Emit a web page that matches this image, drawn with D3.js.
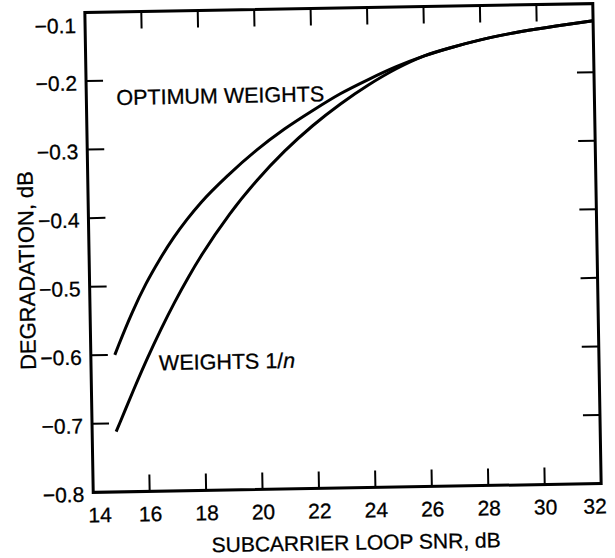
<!DOCTYPE html>
<html>
<head>
<meta charset="utf-8">
<script src="https://cdn.jsdelivr.net/npm/d3@7"></script>
<style>
  body { margin: 0; background: #fff; }
  text { font-family: "Liberation Sans", Arial, Helvetica, sans-serif; fill: #000; stroke: #000; stroke-width: 0.3px; }
</style>
</head>
<body>
<svg width="615" height="558"></svg>
<script>
// data
var snr = [14.85, 15, 15.5, 16, 16.5, 17, 17.5, 18, 19, 20, 21, 22, 23, 24, 25, 26, 27, 28, 29, 30, 31, 32];
var optimumWeights = [-0.600, -0.585, -0.538, -0.497, -0.462, -0.431, -0.404, -0.380, -0.340, -0.305, -0.275, -0.249, -0.225, -0.205, -0.187, -0.172, -0.160, -0.150, -0.142, -0.1355, -0.130, -0.125];
var weightsInvN = [-0.712, -0.698, -0.651, -0.606, -0.564, -0.525, -0.489, -0.456, -0.398, -0.349, -0.307, -0.271, -0.240, -0.213, -0.190, -0.172, -0.160, -0.150, -0.142, -0.1355, -0.130, -0.125];

var xTicks = [14, 16, 18, 20, 22, 24, 26, 28, 30, 32];
var yTicks = [-0.1, -0.2, -0.3, -0.4, -0.5, -0.6, -0.7, -0.8];

var svg = d3.select("svg");

// note: "top" is taken by window.top, so prefix these
var pLeft = 89, pRight = 597, pTop = 8, pBottom = 488;
var tickLen = 17;

// scanned page is a little tilted
var g = svg.append("g")
    .attr("transform", "rotate(-1," + ((pLeft + pRight) / 2) + "," + ((pTop + pBottom) / 2) + ")");

var x = d3.scaleLinear().domain([14, 32]).range([pLeft, pRight]);
var y = d3.scaleLinear().domain([-0.8, -0.1]).range([pBottom, pTop]);

var fmt = d3.format(".1f");

// axes only for the labels, tick marks drawn below
var xAxis = g.append("g")
    .attr("transform", "translate(0," + pBottom + ")")
    .call(d3.axisBottom(x).tickValues(xTicks).tickSize(0).tickPadding(15).tickFormat(d3.format("d")));

var yAxis = g.append("g")
    .attr("transform", "translate(" + pLeft + ",0)")
    .call(d3.axisLeft(y).tickValues(yTicks).tickSize(0).tickPadding(9).tickFormat(fmt));

g.selectAll(".domain").remove();
g.selectAll(".tick line").remove();

xAxis.selectAll("text").attr("font-size", 21).attr("fill", "#000")
    .attr("dx", function(d) { return d == 14 ? 6 : d == 32 ? -7 : 0; });
yAxis.selectAll("text").attr("font-size", 21).attr("fill", "#000")
    .attr("dy", function(d) { return d == -0.1 ? "0.95em" : "0.42em"; });

// frame
g.append("rect")
    .attr("x", pLeft)
    .attr("y", pTop)
    .attr("width", pRight - pLeft)
    .attr("height", pBottom - pTop)
    .attr("fill", "none")
    .attr("stroke", "#000")
    .attr("stroke-width", 3);

// inward ticks on all four sides, as one path
var tp = d3.path();
xTicks.slice(1, -1).forEach(function(d) {
    tp.moveTo(x(d), pBottom); tp.lineTo(x(d), pBottom - tickLen);
    tp.moveTo(x(d), pTop); tp.lineTo(x(d), pTop + tickLen);
});
yTicks.slice(1, -1).forEach(function(d) {
    tp.moveTo(pLeft, y(d)); tp.lineTo(pLeft + tickLen, y(d));
    tp.moveTo(pRight, y(d)); tp.lineTo(pRight - tickLen, y(d));
});
g.append("path")
    .attr("d", tp.toString())
    .attr("fill", "none")
    .attr("stroke", "#000")
    .attr("stroke-width", 2);

var line = d3.line()
    .x(function(d) { return x(d[0]); })
    .y(function(d) { return y(d[1]); })
    .curve(d3.curveMonotoneX);

g.append("path")
    .datum(snr.map(function(s, i) { return [s, optimumWeights[i]]; }))
    .attr("d", line)
    .attr("fill", "none")
    .attr("stroke", "#000")
    .attr("stroke-width", 3);

g.append("path")
    .datum(snr.map(function(s, i) { return [s, weightsInvN[i]]; }))
    .attr("d", line)
    .attr("fill", "none")
    .attr("stroke", "#000")
    .attr("stroke-width", 3);

// labels
g.append("text")
    .attr("x", 119)
    .attr("y", 101)
    .attr("font-size", 21.5)
    .text("OPTIMUM WEIGHTS");

var wl = g.append("text")
    .attr("x", 157)
    .attr("y", 367)
    .attr("font-size", 21.5);
wl.append("tspan").text("WEIGHTS 1/");
wl.append("tspan").attr("font-style", "italic").text("n");

g.append("text")
    .attr("x", (pLeft + pRight) / 2 + 8)
    .attr("y", 550)
    .attr("text-anchor", "middle")
    .attr("font-size", 21)
    .text("SUBCARRIER LOOP SNR, dB");

g.append("text")
    .attr("transform", "translate(34,265) rotate(-90)")
    .attr("text-anchor", "middle")
    .attr("font-size", 22)
    .text("DEGRADATION, dB");
</script>
</body>
</html>
